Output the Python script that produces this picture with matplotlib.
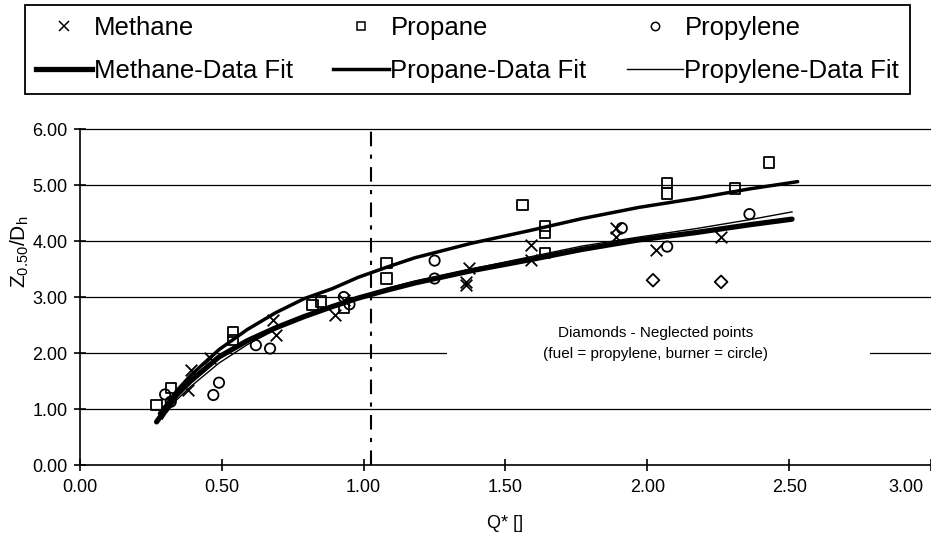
import matplotlib
matplotlib.use("Agg")
import matplotlib.pyplot as plt
from matplotlib.lines import Line2D
from matplotlib.patches import Rectangle
import matplotlib.transforms as mtransforms

plt.rcParams['font.family'] = ['Liberation Sans', 'DejaVu Sans']

# ---- data ----
methane_x = [0.38, 0.39, 0.46, 0.68, 0.69, 0.90, 0.93, 1.36, 1.37, 1.36, 1.59, 1.59, 1.89, 1.89, 2.03, 2.26]
methane_y = [1.34, 1.70, 1.91, 2.59, 2.33, 2.68, 2.95, 3.27, 3.51, 3.22, 3.93, 3.66, 4.23, 4.08, 3.84, 4.08]

propane_x = [0.27, 0.32, 0.54, 0.54, 0.82, 0.85, 0.93, 1.08, 1.08, 1.56, 1.64, 1.64, 1.64, 2.07, 2.07, 2.31, 2.43]
propane_y = [1.07, 1.37, 2.38, 2.23, 2.86, 2.92, 2.80, 3.61, 3.33, 4.64, 4.27, 4.15, 3.78, 5.03, 4.85, 4.94, 5.40]

propylene_x = [0.30, 0.32, 0.47, 0.49, 0.62, 0.67, 0.93, 0.95, 1.25, 1.25, 1.91, 2.07, 2.36]
propylene_y = [1.26, 1.13, 1.25, 1.47, 2.14, 2.08, 3.00, 2.87, 3.65, 3.33, 4.23, 3.90, 4.48]

neglected_x = [2.02, 2.26]
neglected_y = [3.30, 3.27]

methane_fit_x = [0.27, 0.30, 0.34, 0.39, 0.49, 0.59, 0.69, 0.79, 0.89, 0.98, 1.08, 1.18, 1.38, 1.58, 1.77, 1.97, 2.17, 2.36, 2.51]
methane_fit = [0.77, 0.98, 1.25, 1.50, 1.93, 2.22, 2.45, 2.65, 2.83, 2.98, 3.12, 3.25, 3.47, 3.66, 3.85, 4.02, 4.15, 4.29, 4.39]

propane_fit_x = [0.28, 0.30, 0.34, 0.39, 0.49, 0.59, 0.69, 0.79, 0.89, 0.98, 1.08, 1.18, 1.38, 1.58, 1.77, 1.97, 2.17, 2.36, 2.53]
propane_fit = [0.92, 1.05, 1.32, 1.60, 2.06, 2.42, 2.72, 2.97, 3.15, 3.35, 3.53, 3.70, 3.96, 4.18, 4.40, 4.60, 4.76, 4.93, 5.06]

propylene_fit_x = [0.29, 0.30, 0.34, 0.39, 0.49, 0.59, 0.69, 0.79, 0.89, 0.98, 1.08, 1.18, 1.38, 1.58, 1.77, 1.97, 2.17, 2.36, 2.51]
propylene_fit = [0.82, 0.90, 1.16, 1.40, 1.82, 2.15, 2.42, 2.65, 2.84, 3.00, 3.15, 3.28, 3.50, 3.71, 3.91, 4.07, 4.22, 4.38, 4.52]

cutoff_q = 1.025

x_ticks = [0.0, 0.5, 1.0, 1.5, 2.0, 2.5, 3.0]
y_ticks = [0, 1, 2, 3, 4, 5, 6]

note_text = "Diamonds - Neglected points\n(fuel = propylene, burner = circle)"

# ---- figure ----
fig = plt.figure(figsize=(9.31, 5.39), dpi=100)
ax = fig.add_axes([80/931, (539-465)/539, (931-80)/931, (465-129)/539])
ax.set_xlim(0, 3)
ax.set_ylim(0, 6)

for yv in y_ticks[1:]:
    ax.axhline(yv, color='black', lw=0.9, zorder=1, clip_on=False)

ax.axvline(cutoff_q, color='black', lw=1.5, ls=(0, (7, 4, 2, 4)), zorder=2)

# white text box of the note (hides the grid line behind it)
ax.add_patch(Rectangle((1.295, 1.62), 2.785 - 1.295, 1.05, facecolor='white', edgecolor='none', zorder=2))
ax.text(2.03, 2.17, note_text, ha='center', va='center', fontsize=11, linespacing=1.6, zorder=5)

ax.plot(methane_fit_x, methane_fit, color='black', lw=3.8, solid_capstyle='round', zorder=3)
ax.plot(propane_fit_x, propane_fit, color='black', lw=2.5, solid_capstyle='round', zorder=3)
ax.plot(propylene_fit_x, propylene_fit, color='black', lw=1.0, zorder=3)

ax.scatter(methane_x, methane_y, marker='x', s=70, color='black', linewidths=1.3, zorder=4)
ax.scatter(propane_x, propane_y, marker='s', s=55, facecolors='none', edgecolors='black', linewidths=1.3, zorder=4)
ax.scatter(propylene_x, propylene_y, marker='o', s=55, facecolors='none', edgecolors='black', linewidths=1.3, zorder=4)
ax.scatter(neglected_x, neglected_y, marker='D', s=42, facecolors='none', edgecolors='black', linewidths=1.3, zorder=4)

ax.set_xticks(x_ticks)
ax.set_yticks(y_ticks)
ax.set_xticklabels([f"{v:.2f}" for v in x_ticks], fontsize=13)
ax.set_yticklabels([f"{v:.2f}" for v in y_ticks], fontsize=13)
ax.tick_params(axis='both', direction='inout', length=8, width=1.2)
ax.tick_params(axis='x', pad=6)
ax.tick_params(axis='y', pad=5)
last = ax.get_xticklabels()[-1]
last.set_transform(last.get_transform() + mtransforms.ScaledTranslation(-25/100, 0, fig.dpi_scale_trans))
for side in ['top', 'right']:
    ax.spines[side].set_visible(False)
for side in ['left', 'bottom']:
    ax.spines[side].set_linewidth(1.2)

ax.set_xlabel("Q* []", fontsize=13)
ax.xaxis.set_label_coords((505-80)/(931-80), -(515-465)/336)
ax.set_ylabel(r"Z$_{\mathregular{0.50}}$/D$_{\mathregular{h}}$", fontsize=15)
ax.yaxis.set_label_coords(-(80-31)/(931-80), (465-252)/336)

handles = [
    Line2D([], [], marker='x', ls='none', color='black', markersize=7, mew=1.1),
    Line2D([], [], color='black', lw=3.8),
    Line2D([], [], marker='s', ls='none', markerfacecolor='none', markeredgecolor='black', markersize=6, mew=1.1),
    Line2D([], [], color='black', lw=2.5),
    Line2D([], [], marker='o', ls='none', markerfacecolor='none', markeredgecolor='black', markersize=6, mew=1.1),
    Line2D([], [], color='black', lw=1.0),
]
labels = ["Methane", "Methane-Data Fit", "Propane", "Propane-Data Fit", "Propylene", "Propylene-Data Fit"]
leg = fig.legend(handles, labels, ncol=3, loc='upper left', mode='expand',
                 bbox_to_anchor=(25/931, 1 - 90/539, 885/931, 85/539),
                 fontsize=18.5, frameon=True, fancybox=False, edgecolor='black', framealpha=1,
                 handlelength=2.2, handletextpad=0.05, labelspacing=0.75,
                 borderpad=0.42, borderaxespad=0)
leg.get_frame().set_linewidth(1.3)

fig.savefig("out.png", dpi=100)
